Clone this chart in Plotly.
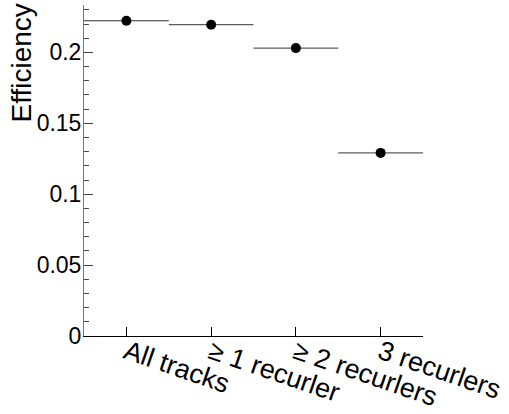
import plotly.graph_objects as go

categories = ["All tracks", "\u2265 1 recurler", "\u2265 2 recurlers", "3 recurlers"]
efficiency = [0.2223, 0.2195, 0.2030, 0.1291]
bin_half_width = [0.5, 0.5, 0.5, 0.5]
y_ticks = [0, 0.05, 0.1, 0.15, 0.2]
y_tick_labels = ["0", "0.05", "0.1", "0.15", "0.2"]

x_pos = list(range(len(categories)))

FONT = "Liberation Sans, Arial, sans-serif"

fig = go.Figure()
fig.add_trace(go.Scatter(
    x=x_pos, y=efficiency, mode="markers",
    marker=dict(color="black", size=10, symbol="circle"),
    error_x=dict(type="data", array=bin_half_width, visible=True,
                 color="#333333", thickness=1, width=0),
    showlegend=False,
))

fig.add_annotation(
    text="Efficiency", textangle=-90, showarrow=False,
    xref="paper", yref="paper", x=-0.183, y=1.0,
    xanchor="center", yanchor="top", yshift=4,
    font=dict(family=FONT, size=28, color="black"),
)

fig.update_layout(
    width=509, height=414,
    margin=dict(l=84, r=86, t=5, b=78, autoexpand=False),
    paper_bgcolor="white", plot_bgcolor="white",
    font=dict(family=FONT, color="black"),
    xaxis=dict(
        range=[-0.5, 3.5], tickvals=x_pos, ticktext=categories,
        tickangle=19, ticks="inside", ticklen=9, tickcolor="black",
        showline=True, linecolor="black", linewidth=1,
        showgrid=False, zeroline=False, automargin=False,
        ticklabelstandoff=-11,
        tickfont=dict(family=FONT, size=27, color="black"),
    ),
    yaxis=dict(
        range=[0, 0.2334], tickvals=y_ticks, ticktext=y_tick_labels,
        ticks="inside", ticklen=9, tickcolor="#444444",
        showline=True, linecolor="#777777", linewidth=1,
        showgrid=False, zeroline=False, automargin=False,
        ticklabelstandoff=-3,
        tickfont=dict(family=FONT, size=23, color="black"),
        minor=dict(dtick=0.01, ticks="inside", ticklen=5, tickcolor="#444444", showgrid=False),
    ),
)

fig.write_html("out.html", config={"displayModeBar": False},
               post_script="document.body.style.margin='0';document.body.style.overflow='hidden';")
